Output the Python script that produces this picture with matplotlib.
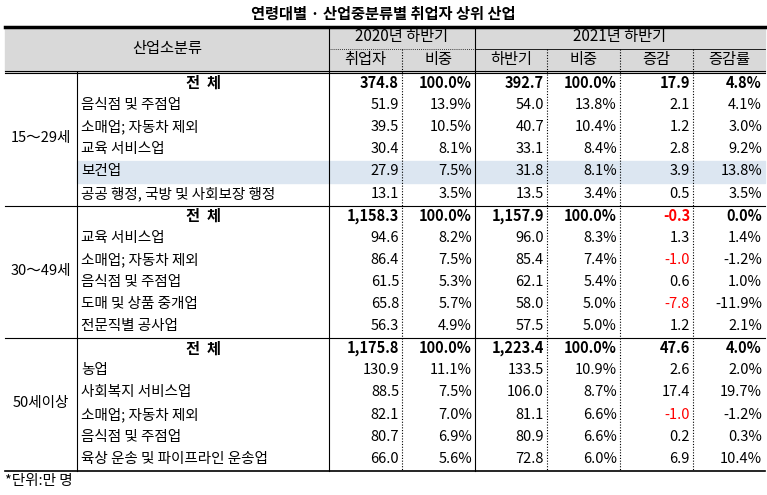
import matplotlib
matplotlib.use("Agg")
import matplotlib.pyplot as plt
from matplotlib.patches import Rectangle
from matplotlib import font_manager

_names = sorted({f.name for f in font_manager.fontManager.ttflist if 'CJK' in f.name})
_pref = [n for n in ['Noto Sans CJK KR', 'Noto Sans CJK JP', 'Noto Sans CJK SC'] if n in _names] + _names
plt.rcParams['font.family'] = (_pref[:1] if _pref else []) + ['DejaVu Sans']

title = "연령대별 · 산업중분류별 취업자 상위 산업"
groups = ["15～29세", "30～49세", "50세이상"]
industries = [
    ["전  체", "음식점 및 주점업", "소매업; 자동차 제외", "교육 서비스업", "보건업", "공공 행정, 국방 및 사회보장 행정"],
    ["전  체", "교육 서비스업", "소매업; 자동차 제외", "음식점 및 주점업", "도매 및 상품 중개업", "전문직별 공사업"],
    ["전  체", "농업", "사회복지 서비스업", "소매업; 자동차 제외", "음식점 및 주점업", "육상 운송 및 파이프라인 운송업"],
]
emp2020 = [374.8, 51.9, 39.5, 30.4, 27.9, 13.1,
           1158.3, 94.6, 86.4, 61.5, 65.8, 56.3,
           1175.8, 130.9, 88.5, 82.1, 80.7, 66.0]
share2020 = [100.0, 13.9, 10.5, 8.1, 7.5, 3.5,
             100.0, 8.2, 7.5, 5.3, 5.7, 4.9,
             100.0, 11.1, 7.5, 7.0, 6.9, 5.6]
emp2021 = [392.7, 54.0, 40.7, 33.1, 31.8, 13.5,
           1157.9, 96.0, 85.4, 62.1, 58.0, 57.5,
           1223.4, 133.5, 106.0, 81.1, 80.9, 72.8]
share2021 = [100.0, 13.8, 10.4, 8.4, 8.1, 3.4,
             100.0, 8.3, 7.4, 5.4, 5.0, 5.0,
             100.0, 10.9, 8.7, 6.6, 6.6, 6.0]
change = [17.9, 2.1, 1.2, 2.8, 3.9, 0.5,
          -0.3, 1.3, -1.0, 0.6, -7.8, 1.2,
          47.6, 2.6, 17.4, -1.0, 0.2, 6.9]
rate = [4.8, 4.1, 3.0, 9.2, 13.8, 3.5,
        0.0, 1.4, -1.2, 1.0, -11.9, 2.1,
        4.0, 2.0, 19.7, -1.2, 0.3, 10.4]

W, H = 767, 495
fig = plt.figure(figsize=(W/100, H/100), dpi=100)
ax = fig.add_axes([0, 0, 1, 1])
ax.set_xlim(0, W); ax.set_ylim(H, 0); ax.axis('off')

L, R = 5, 765
xs = [5, 77, 329, 402, 475, 547, 620, 693, 765]
top, h1, h2 = 27, 49, 72
y0, rh = 73, 22.1
fs = 10.5
dy = -1

ax.text(W/2, 14, title, ha='center', va='center', fontsize=11, fontweight='bold')
ax.add_patch(Rectangle((L, top), R-L, h2-top, color='#d9d9d9', zorder=0))
ax.plot([L, R], [top, top], color='black', lw=2.5)
ax.plot([L, R], [h2-1, h2-1], color='black', lw=0.8)
ax.plot([L, R], [h2+1, h2+1], color='black', lw=0.8)
ax.plot([xs[4], R], [h1, h1], color='black', lw=0.6)
ax.plot([xs[2], xs[4]], [h1, h1], color='black', lw=0.6, ls=(0, (1, 1.5)))
ax.text((xs[0]+xs[2])/2, (top+h2)/2+dy, "산업소분류", ha='center', va='center', fontsize=fs+0.5)
ax.text((xs[2]+xs[4])/2, (top+h1)/2+dy, "2020년 하반기", ha='center', va='center', fontsize=fs+0.5)
ax.text((xs[4]+xs[8])/2, (top+h1)/2+dy, "2021년 하반기", ha='center', va='center', fontsize=fs+0.5)
for i, lab in enumerate(["취업자", "비중", "하반기", "비중", "증감", "증감률"]):
    ax.text((xs[i+2]+xs[i+3])/2, (h1+h2)/2+dy, lab, ha='center', va='center', fontsize=fs+0.5)

ax.add_patch(Rectangle((xs[1], y0+4*rh), R-xs[1], rh, color='#dce6f1', zorder=0))

bottom = y0 + 18*rh
for x in [xs[2], xs[4]]:
    ax.plot([x, x], [top, bottom], color='black', lw=0.8)
ax.plot([xs[1], xs[1]], [h2, bottom], color='black', lw=0.8)
for x in [xs[3], xs[5], xs[6], xs[7]]:
    ax.plot([x, x], [h1, bottom], color='black', lw=0.8, ls=(0, (1, 1.5)))
for g in range(1, 3):
    yy = y0 + g*6*rh
    ax.plot([L, R], [yy, yy], color='black', lw=0.8)
ax.plot([L, R], [bottom, bottom], color='black', lw=1.2)

def fmt(v, pct=False):
    s = f"{v:,.1f}"
    return s + "%" if pct else s

for g in range(3):
    ax.text((xs[0]+xs[1])/2, y0 + (g*6+3)*rh + dy, groups[g], ha='center', va='center', fontsize=fs)
    for j in range(6):
        k = g*6 + j
        yc = y0 + (k+0.5)*rh + dy
        bold = (j == 0)
        fw = 'bold' if bold else 'normal'
        if bold:
            ax.text((xs[1]+xs[2])/2, yc, industries[g][j], ha='center', va='center', fontsize=fs+0.5, fontweight='bold')
        else:
            ax.text(xs[1]+4, yc, industries[g][j], ha='left', va='center', fontsize=fs)
        vals = [fmt(emp2020[k]), fmt(share2020[k], True), fmt(emp2021[k]),
                fmt(share2021[k], True), fmt(change[k]), fmt(rate[k], True)]
        for c, v in enumerate(vals):
            col = 'red' if (c == 4 and change[k] < 0) else 'black'
            ax.text(xs[c+3]-3, yc, v, ha='right', va='center', fontsize=fs, fontweight=fw, color=col)

ax.text(5, 481, "*단위:만 명", ha='left', va='center', fontsize=fs)
fig.savefig("out.png", dpi=100)
